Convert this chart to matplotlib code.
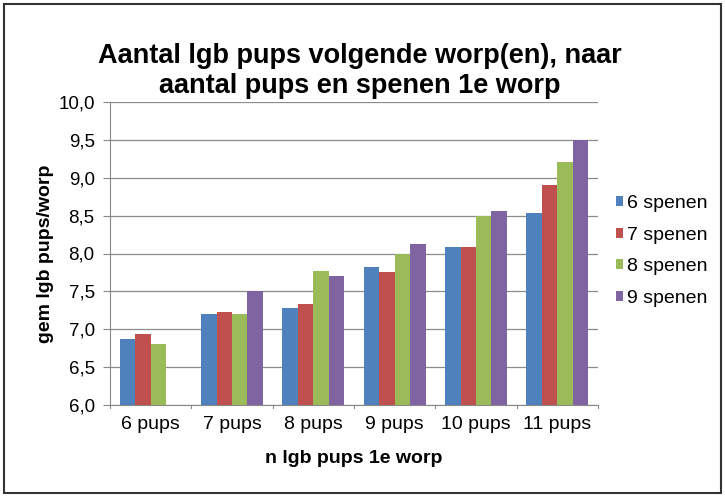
import numpy as np
import matplotlib
matplotlib.use('Agg')
from matplotlib import pyplot as plt
from matplotlib.patches import Rectangle

plt.rcParams['font.family'] = ['Liberation Sans', 'DejaVu Sans']

# data
categories = ['6 pups', '7 pups', '8 pups', '9 pups', '10 pups', '11 pups']
series_names = ['6 spenen', '7 spenen', '8 spenen', '9 spenen']
spenen_6 = [6.87, 7.20, 7.28, 7.82, 8.08, 8.54]
spenen_7 = [6.94, 7.23, 7.33, 7.76, 8.08, 8.90]
spenen_8 = [6.81, 7.20, 7.77, 8.00, 8.50, 9.21]
spenen_9 = [np.nan, 7.50, 7.70, 8.13, 8.56, 9.50]
yticks = [6.0, 6.5, 7.0, 7.5, 8.0, 8.5, 9.0, 9.5, 10.0]

colors = ['#4F81BD', '#C0504D', '#9BBB59', '#8064A2']

fig = plt.figure(figsize=(7.25, 4.97), dpi=100)
ax = fig.add_axes([110 / 725, 1 - 405 / 497, (598 - 110) / 725, (405 - 102) / 497])

x = np.arange(len(categories))
w = 0.19
for i, vals in enumerate([spenen_6, spenen_7, spenen_8, spenen_9]):
    ax.bar(x + (i - 1.5) * w, np.array(vals) - 6.0, width=w, bottom=6.0,
           color=colors[i], label=series_names[i], zorder=3)

ax.set_xlim(-0.5, len(categories) - 0.5)
ax.set_ylim(6.0, 10.0)
ax.set_yticks(yticks)
ax.set_yticklabels([('%.1f' % t).replace('.', ',') for t in yticks], fontsize=13.5)
ax.set_xticks(x)
ax.set_xticklabels(categories, fontsize=14)
ax.tick_params(axis='x', length=0, pad=8)
ax.tick_params(axis='y', length=5, pad=6, color='#888888')
# small category separators on the x axis
for b in np.arange(-0.5, len(categories) + 0.5, 1.0):
    ax.plot([b, b], [6.0, 5.96], color='#888888', lw=0.8, clip_on=False, zorder=4)

ax.grid(axis='y', color='#8c8c8c', lw=0.9, zorder=0)
for s in ['top', 'right']:
    ax.spines[s].set_visible(False)
for s in ['left', 'bottom']:
    ax.spines[s].set_color('#888888')

ax.set_ylabel('gem lgb pups/worp', fontsize=14, fontweight='bold', labelpad=3)
ax.set_xlabel('n lgb pups 1e worp', fontsize=14, fontweight='bold', labelpad=12)

fig.text(360 / 725, 1 - 63 / 497, 'Aantal lgb pups volgende worp(en), naar',
         ha='center', va='baseline', fontsize=19.5, fontweight='bold')
fig.text(360 / 725, 1 - 93 / 497, 'aantal pups en spenen 1e worp',
         ha='center', va='baseline', fontsize=19.5, fontweight='bold')

leg = fig.legend(loc='center left', bbox_to_anchor=(598 / 725, 1 - 251 / 497),
                 frameon=False, fontsize=14, handlelength=0.4, handleheight=0.4,
                 handletextpad=0.2, labelspacing=0.75, borderpad=0.4)

# outer frame
fig.patches.append(Rectangle((4 / 725, 4 / 497), 1 - 8 / 725, 1 - 8 / 497,
                             transform=fig.transFigure, fill=False,
                             edgecolor='#333333', lw=1.5))

plt.savefig('out.png', dpi=100)
plt.close()
